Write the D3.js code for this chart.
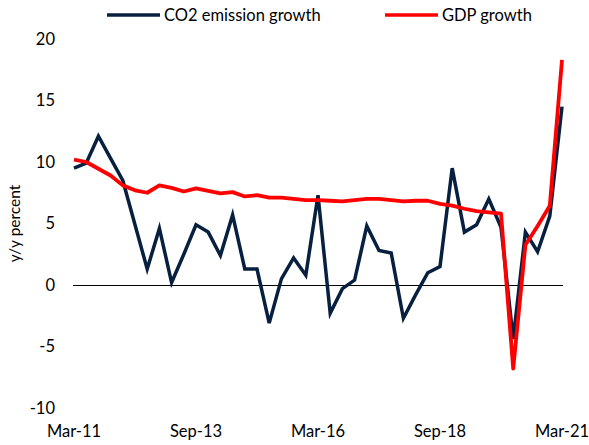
<!DOCTYPE html>
<html>
<head>
<meta charset="utf-8">
<script src="https://cdn.jsdelivr.net/npm/d3@7"></script>
<style>
  body { margin: 0; background: #fff; }
  svg text { font-family: Lato, "Open Sans", sans-serif; fill: #000; }
</style>
</head>
<body>
<div id="chart"></div>
<script>
const quarters = [
  "Mar-11", "Jun-11", "Sep-11", "Dec-11", "Mar-12", "Jun-12", "Sep-12", "Dec-12",
  "Mar-13", "Jun-13", "Sep-13", "Dec-13", "Mar-14", "Jun-14", "Sep-14", "Dec-14",
  "Mar-15", "Jun-15", "Sep-15", "Dec-15", "Mar-16", "Jun-16", "Sep-16", "Dec-16",
  "Mar-17", "Jun-17", "Sep-17", "Dec-17", "Mar-18", "Jun-18", "Sep-18", "Dec-18",
  "Mar-19", "Jun-19", "Sep-19", "Dec-19", "Mar-20", "Jun-20", "Sep-20", "Dec-20",
  "Mar-21"
];

const co2Growth = [
  9.5, 9.9, 12.1, 10.3, 8.5, 4.9, 1.3, 4.6, 0.2, 2.5,
  4.9, 4.3, 2.4, 5.7, 1.3, 1.3, -3.1, 0.5, 2.2, 0.8,
  7.3, -2.3, -0.3, 0.4, 4.8, 2.8, 2.6, -2.7, -0.8, 1.0,
  1.5, 9.5, 4.3, 4.9, 7.0, 4.7, -4.4, 4.3, 2.7, 5.6,
  14.5
];

const gdpGrowth = [
  10.2, 10.0, 9.45, 8.9, 8.1, 7.7, 7.5, 8.1, 7.9, 7.6,
  7.85, 7.65, 7.45, 7.55, 7.2, 7.3, 7.1, 7.1, 7.0, 6.9,
  6.9, 6.85, 6.8, 6.9, 7.0, 7.0, 6.9, 6.8, 6.85, 6.85,
  6.6, 6.45, 6.2, 6.0, 5.9, 5.8, -6.8, 3.25, 4.8, 6.45,
  18.3
];

const yTicks = [-10, -5, 0, 5, 10, 15, 20];
const xTickLabels = ["Mar-11", "Sep-13", "Mar-16", "Sep-18", "Mar-21"];

const seriesNames = ["CO2 emission growth", "GDP growth"];
const seriesColors = ["#08203f", "#ff0000"];

const width = 589;
const height = 445;

const svg = d3.select("#chart").append("svg")
  .attr("width", width)
  .attr("height", height);

const x = d3.scalePoint()
  .domain(quarters)
  .range([74, 562]);

const y = d3.scaleLinear()
  .domain([-10, 20])
  .range([408, 39]);

// y tick labels
svg.append("g")
  .selectAll("text")
  .data(yTicks)
  .enter()
  .append("text")
  .attr("x", 55)
  .attr("y", d => y(d))
  .attr("dy", "0.35em")
  .attr("text-anchor", "end")
  .attr("font-size", 16.5)
  .text(d => d);

// y title
svg.append("text")
  .attr("transform", `translate(20,${(y(20) + y(-10)) / 2}) rotate(-90)`)
  .attr("text-anchor", "middle")
  .attr("font-size", 15.5)
  .text("y/y percent");

// x labels
svg.append("g")
  .selectAll("text")
  .data(xTickLabels)
  .enter()
  .append("text")
  .attr("x", d => x(d))
  .attr("y", 437)
  .attr("text-anchor", "middle")
  .attr("font-size", 16.5)
  .text(d => d);

// zero line
svg.append("line")
  .attr("x1", x(quarters[0]) - 1)
  .attr("x2", x(quarters[quarters.length - 1]) + 1)
  .attr("y1", Math.round(y(0)) + 0.5)
  .attr("y2", Math.round(y(0)) + 0.5)
  .attr("stroke", "#000")
  .attr("stroke-width", 1);

const line = d3.line()
  .x((d, i) => x(quarters[i]))
  .y(d => y(d));

svg.append("path")
  .datum(co2Growth)
  .attr("d", line)
  .attr("fill", "none")
  .attr("stroke", seriesColors[0])
  .attr("stroke-width", 3.5)
  .attr("stroke-linejoin", "miter");

svg.append("path")
  .datum(gdpGrowth)
  .attr("d", line)
  .attr("fill", "none")
  .attr("stroke", seriesColors[1])
  .attr("stroke-width", 3.8)
  .attr("stroke-linejoin", "round");

// legend
const legendX = [107, 385];
const legend = svg.append("g")
  .selectAll("g")
  .data(seriesNames)
  .enter()
  .append("g")
  .attr("transform", (d, i) => `translate(${legendX[i]},15)`);

legend.append("line")
  .attr("x1", 0)
  .attr("x2", 53)
  .attr("stroke", (d, i) => seriesColors[i])
  .attr("stroke-width", 3.5);

legend.append("text")
  .attr("x", 57)
  .attr("dy", "0.35em")
  .attr("font-size", 16.5)
  .text(d => d);
</script>
</body>
</html>
